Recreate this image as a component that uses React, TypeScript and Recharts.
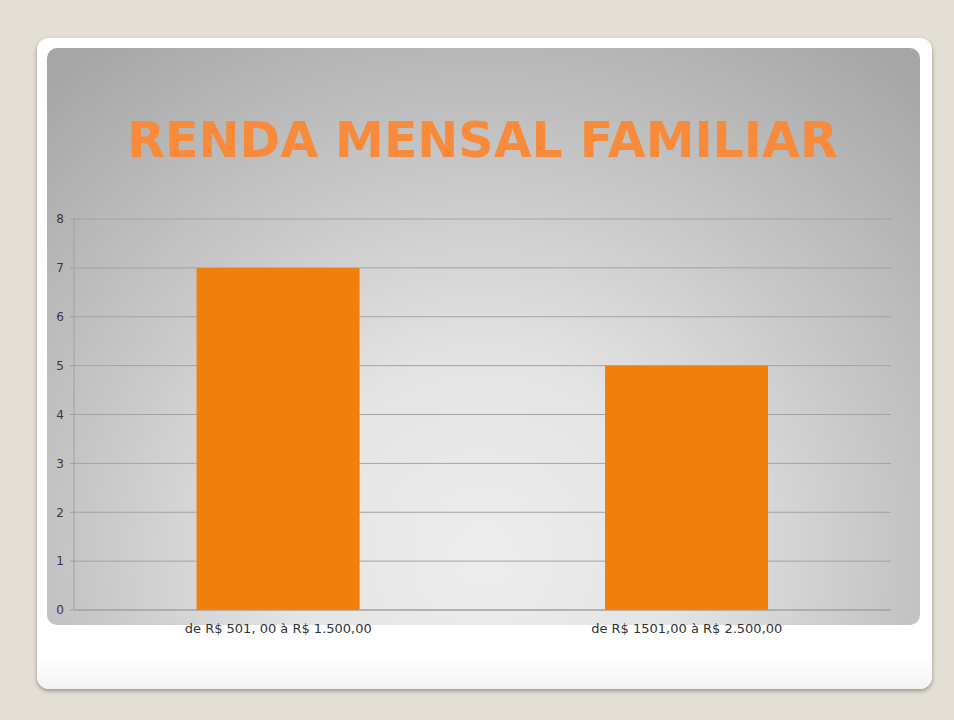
import React from 'react';
import { BarChart, Bar, XAxis, YAxis, CartesianGrid, Cell } from 'recharts';

// Renda mensal familiar (número de famílias por faixa)
const faixas = ['de R$ 501, 00 à R$ 1.500,00', 'de R$ 1501,00 à R$ 2.500,00'];
const familias = [7, 5];
const yTicks = [0, 1, 2, 3, 4, 5, 6, 7, 8];
const boundaryTicks = [0, 1, 2];

const data = faixas.map((faixa, i) => ({ faixa, value: familias[i], pos: i + 0.5 }));

const FONT = '"DejaVu Sans", Verdana, sans-serif';
const BAR_COLOR = '#f07f0b';

const EmptyTick = () => <g />;

export default function App() {
  return (
    <div
      style={{
        position: 'absolute',
        left: 0,
        top: 0,
        width: 954,
        height: 720,
        background: '#e4dfd4',
        overflow: 'hidden',
        fontFamily: FONT,
      }}
    >
      {/* white card */}
      <div
        style={{
          position: 'absolute',
          left: 37,
          top: 38,
          width: 895,
          height: 651,
          background: 'linear-gradient(to bottom, #ffffff 0%, #ffffff 95%, #f3f3f3 100%)',
          borderRadius: 12,
          boxShadow: '0 2px 4px rgba(0,0,0,0.35)',
        }}
      />
      {/* gray gradient panel */}
      <div
        style={{
          position: 'absolute',
          left: 47,
          top: 48,
          width: 873,
          height: 577,
          borderRadius: 10,
          background:
            'radial-gradient(ellipse 75% 110% at 50% 88%, #ededed 0%, #e4e4e4 30%, #c8c8c8 60%, #a6a6a6 100%)',
        }}
      />
      <svg
        width={954}
        height={720}
        style={{ position: 'absolute', left: 0, top: 0 }}
      >
        <text
          x={482.5}
          y={157}
          textAnchor="middle"
          fontFamily={FONT}
          fontWeight="bold"
          fontSize={49}
          fill="#f78b3b"
        >
          RENDA MENSAL FAMILIAR
        </text>
      </svg>
      <div style={{ position: 'absolute', left: 0, top: 0 }}>
        <BarChart
          width={954}
          height={720}
          data={data}
          margin={{ top: 219, right: 63, left: 44, bottom: 80 }}
          barCategoryGap="30%"
        >
          <CartesianGrid
            xAxisId="cat"
            vertical={false}
            stroke="#a3a3a3"
            strokeWidth={1}
          />
          <XAxis
            xAxisId="edge"
            type="number"
            dataKey="pos"
            domain={[0, 2]}
            ticks={boundaryTicks}
            height={0}
            axisLine={false}
            tickSize={5}
            tickLine={{ stroke: '#999999' }}
            tick={EmptyTick}
          />
          <XAxis
            xAxisId="cat"
            dataKey="faixa"
            height={30}
            axisLine={{ stroke: '#a0a0a0' }}
            tickLine={false}
            tickMargin={8}
            tick={{ fontSize: 13, fill: '#333333', fontFamily: FONT }}
          />
          <YAxis
            domain={[0, 8]}
            ticks={yTicks}
            width={30}
            axisLine={{ stroke: '#a0a0a0' }}
            tickSize={4}
            tickLine={{ stroke: '#a0a0a0' }}
            tickMargin={6}
            tick={{ fontSize: 12, fill: '#3a3a3a', fontFamily: FONT }}
          />
          <Bar xAxisId="cat" dataKey="value" fill={BAR_COLOR} isAnimationActive={false}>
            {data.map((d, i) => (
              <Cell key={`cell-${i}`} fill={BAR_COLOR} />
            ))}
          </Bar>
        </BarChart>
      </div>
    </div>
  );
}
